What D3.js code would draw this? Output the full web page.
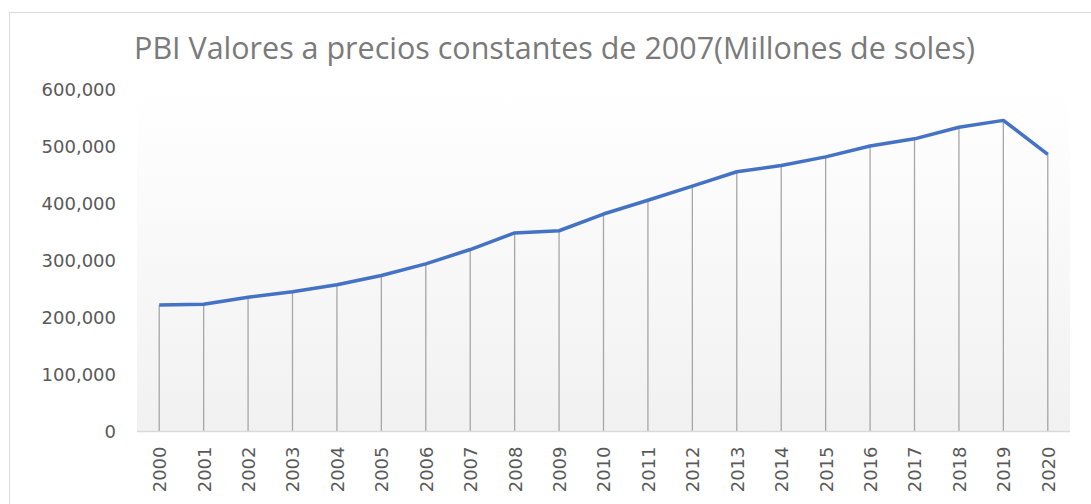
<!DOCTYPE html>
<html>
<head>
<meta charset="utf-8">
<script src="https://cdn.jsdelivr.net/npm/d3@7"></script>
<style>
  html, body { margin: 0; padding: 0; background: #fff; }
  svg { display: block; }
</style>
</head>
<body>
<div id="chart"></div>
<script>
// data (millones de soles, precios de 2007)
const years = ["2000","2001","2002","2003","2004","2005","2006","2007","2008","2009","2010",
  "2011","2012","2013","2014","2015","2016","2017","2018","2019","2020"];
const pbi = [222207, 223580, 235773, 245593, 257770, 273971, 294598, 319693, 348870, 352693, 382081,
  406256, 431199, 456435, 467308, 482506, 501581, 514215, 534665, 546605, 487000];
const yTicks = [0, 100000, 200000, 300000, 400000, 500000, 600000];
const title = "PBI Valores a precios constantes de 2007(Millones de soles)";

const width = 1091, height = 504;
const plot = { left: 137, right: 1070, top: 90, bottom: 431.5 };
const titleFont = "'Open Sans', 'Noto Sans', sans-serif";
const tickFont = "'DejaVu Sans', Verdana, sans-serif";

const svg = d3.select("#chart").append("svg")
  .attr("width", width)
  .attr("height", height);

// chart frame
svg.append("rect")
  .attr("x", 9.5).attr("y", 12.5)
  .attr("width", 1100).attr("height", 520)
  .attr("fill", "#fff")
  .attr("stroke", "#d9d9d9");

// plot background gradient
const defs = svg.append("defs");
const grad = defs.append("linearGradient")
  .attr("id", "bg").attr("x1", 0).attr("y1", 0).attr("x2", 0).attr("y2", 1);
grad.append("stop").attr("offset", "0%").attr("stop-color", "#ffffff");
grad.append("stop").attr("offset", "100%").attr("stop-color", "#f1f1f1");

svg.append("rect")
  .attr("x", plot.left).attr("y", plot.top)
  .attr("width", plot.right - plot.left)
  .attr("height", plot.bottom - plot.top)
  .attr("fill", "url(#bg)");

const x = d3.scalePoint().domain(years).range([plot.left, plot.right]).padding(0.5);
const y = d3.scaleLinear().domain([0, 600000]).range([plot.bottom, plot.top]);

// title
const t = svg.append("text")
  .attr("x", 554.5)
  .attr("y", 59)
  .attr("text-anchor", "middle")
  .attr("fill", "#7a7a7a")
  .style("font-family", titleFont)
  .style("font-size", "25px")
  .text(title);
// fit to the width seen in the picture
const tw = t.node().getComputedTextLength();
t.style("font-size", (25 * 841 / tw).toFixed(2) + "px");

// y axis labels
const yAxis = svg.append("g")
  .attr("transform", `translate(${plot.left},0)`)
  .call(d3.axisLeft(y).tickValues(yTicks).tickFormat(d3.format(",")).tickSize(0).tickPadding(21));
yAxis.select(".domain").remove();
yAxis.selectAll("text")
  .attr("fill", "#595959")
  .style("font-family", tickFont)
  .style("font-size", "18px");

// drop lines
svg.append("g").selectAll("line")
  .data(pbi)
  .join("line")
  .attr("x1", (d, i) => x(years[i]))
  .attr("x2", (d, i) => x(years[i]))
  .attr("y1", d => y(d))
  .attr("y2", y(0))
  .attr("stroke", "#a6a6a6")
  .attr("stroke-width", 1.3);

// x axis baseline + labels
const xAxis = svg.append("g")
  .attr("transform", `translate(0,${plot.bottom})`)
  .call(d3.axisBottom(x).tickSize(0));
xAxis.select(".domain")
  .attr("stroke", "#d9d9d9")
  .attr("stroke-width", 1.3)
  .attr("d", `M${plot.left},0H${plot.right}`);
xAxis.selectAll("text")
  .attr("transform", "rotate(-90)")
  .attr("text-anchor", "end")
  .attr("x", -15)
  .attr("y", 0)
  .attr("dy", "0.36em")
  .attr("fill", "#595959")
  .style("font-family", tickFont)
  .style("font-size", "18px");

// line
const line = d3.line()
  .x((d, i) => x(years[i]))
  .y(d => y(d));

svg.append("path")
  .datum(pbi)
  .attr("d", line)
  .attr("fill", "none")
  .attr("stroke", "#4472c4")
  .attr("stroke-width", 3.5)
  .attr("stroke-linejoin", "round");
</script>
</body>
</html>
